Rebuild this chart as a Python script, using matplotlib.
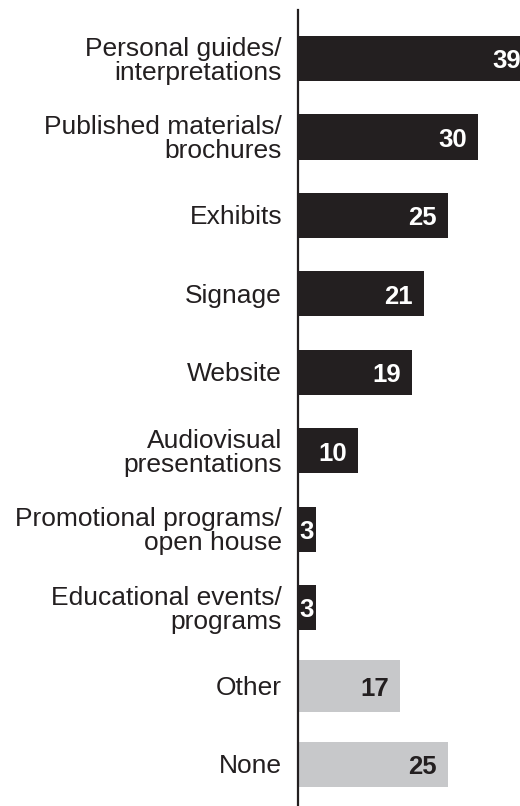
import matplotlib.pyplot as plt
from matplotlib.transforms import blended_transform_factory, offset_copy

plt.rcParams['font.family'] = ['Liberation Sans', 'DejaVu Sans']

categories = [
    'Personal guides/\ninterpretations',
    'Published materials/\nbrochures',
    'Exhibits',
    'Signage',
    'Website',
    'Audiovisual\npresentations',
    'Promotional programs/\nopen house',
    'Educational events/\nprograms',
    'Other',
    'None',
]
values = [39, 30, 25, 21, 19, 10, 3, 3, 17, 25]
is_other = [False] * 8 + [True, True]

dark = '#231f20'
grey = '#c7c8ca'

fig = plt.figure(figsize=(5.2, 8.06), dpi=100)
ax = fig.add_axes([298 / 520, 0, 222 / 520, 796 / 806])

pos = list(range(len(values)))
heights = [0.575] * 8 + [0.675, 0.575]
colors = [grey if o else dark for o in is_other]
ax.barh(pos, values, height=heights, color=colors, linewidth=0)

ax.set_xlim(0, 37)
ax.set_ylim(9.53, -0.62)
for s in ['top', 'right', 'bottom']:
    ax.spines[s].set_visible(False)
ax.spines['left'].set_color(dark)
ax.spines['left'].set_linewidth(1.6)
ax.set_xticks([])
ax.set_yticks([])

# category labels to the left of the axis line
trans = blended_transform_factory(fig.transFigure, ax.transData)
trans = offset_copy(trans, fig=fig, y=-2, units='dots')
for y, lab in zip(pos, categories):
    ax.text(282 / 520, y, lab, transform=trans, ha='right', va='center',
            fontsize=19, color=dark, linespacing=1.0, clip_on=False)

# value labels inside the bars
for y, v, o in zip(pos, values, is_other):
    tc = dark if o else 'white'
    if v * 6 < 30:
        ax.annotate(str(v), (v / 2, y), xytext=(0, -2), textcoords='offset points',
                    ha='center', va='center', fontsize=18.5, fontweight='bold', color=tc)
    else:
        ax.annotate(str(v), (v, y), xytext=(-8, -2), textcoords='offset points',
                    ha='right', va='center', fontsize=18.5, fontweight='bold', color=tc,
                    annotation_clip=False)

fig.savefig('out.png', dpi=100)
